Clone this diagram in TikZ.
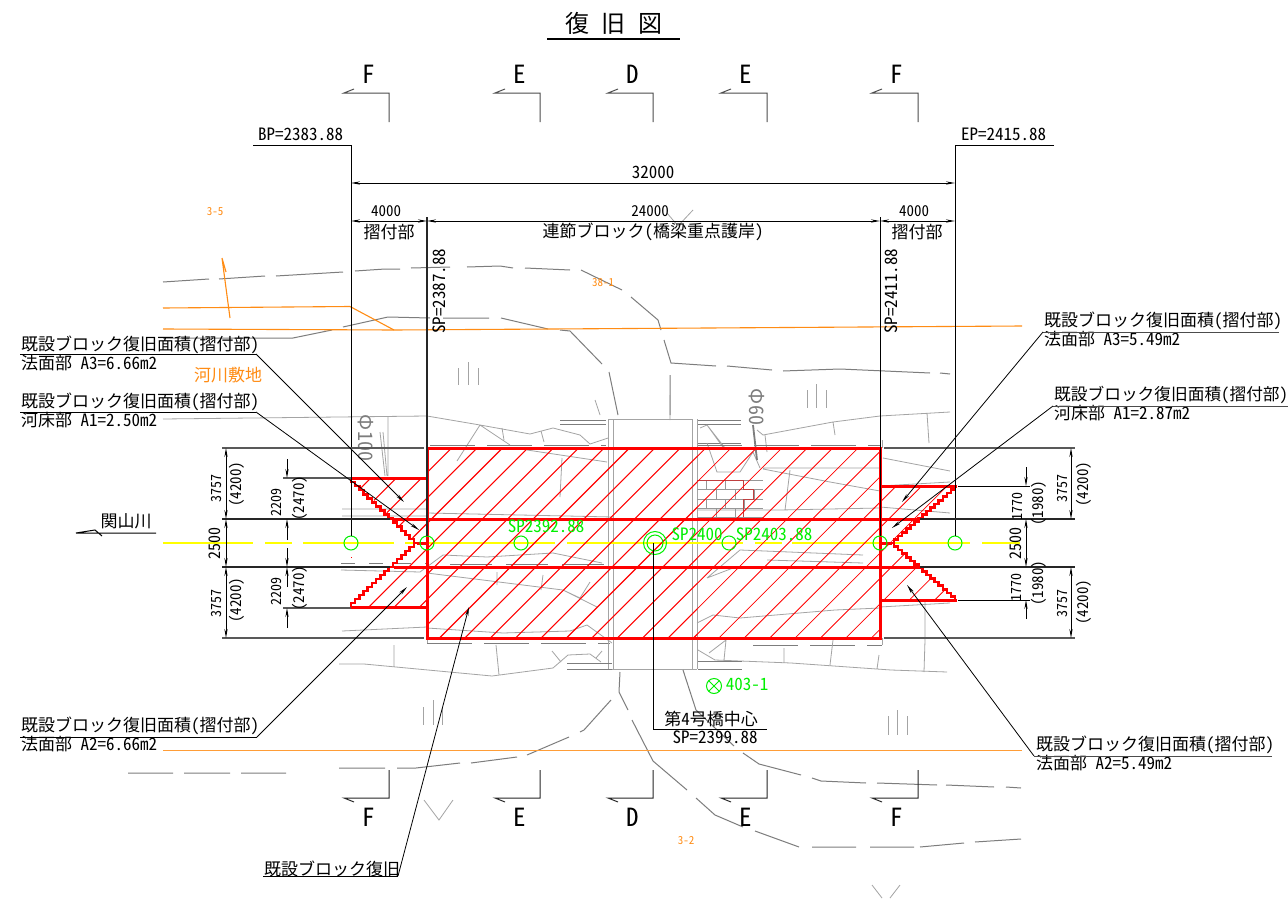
\documentclass[tikz,border=0pt]{standalone}
\usepackage{fontspec}
\usetikzlibrary{arrows.meta,calc}
\newfontfamily\jpf[RawFeature=+hwid]{Noto Sans CJK JP}
\setmainfont{Noto Sans CJK JP}
\newcommand{\fs}[1]{\jpf\fontsize{#1}{#1}\selectfont}
\definecolor{cgreen}{RGB}{0,240,0}
\definecolor{corange}{RGB}{255,140,20}
\definecolor{cred}{RGB}{255,0,0}
\definecolor{cyel}{RGB}{255,255,0}
\definecolor{cgray}{RGB}{125,125,125}
\tikzset{
 lab/.style={font=\fs{17},inner sep=0pt,text=black},
 dimt/.style={font=\fs{14},inner sep=0pt,text=black},
 vdim/.style={dimt,rotate=90},
 sect/.style={font=\fs{25},inner sep=0pt,text=black},
 gl/.style={draw=cgray,line width=1pt},
 gl2/.style={draw=cgray!70,line width=0.8pt},
 orl/.style={draw=corange,line width=1.1pt},
 yl/.style={draw=cyel,line width=1.4pt},
 rd/.style={draw=cred,line width=3pt,line cap=rect},
 st/.style={draw=cred,line width=2.6pt,line cap=rect},
 bk/.style={draw=black,line width=1pt},
 ext/.style={draw=black!65,line width=1.1pt},
 gc/.style={draw=cgreen,line width=1pt},
 arr/.style={-{Stealth[length=9pt,width=3.2pt]},draw=black,line width=0.8pt},
 dbl/.style={{Stealth[length=9pt,width=3.2pt]}-{Stealth[length=9pt,width=3.2pt]},draw=black,line width=0.9pt},
}
\begin{document}
\begin{tikzpicture}[x=1pt,y=-1pt]
\useasboundingbox (0,0) rectangle (1288,899);
\fill[white] (0,0) rectangle (1288,899);
% ---- background survey linework
\draw[gl] (163,282)--(209,279) (219,279)--(265,276) (276,276)--(343,272) (355,271)--(385,269)--(400,269) (411,268)--(450,267) (467,267)--(500,266)--(513,268) (525,268)--(570,270) (581,270)--(622,290) (631,297)--(658,320)--(661,330) (664,340)--(671,363)--(716,366) (727,366)--(772,370) (783,371)--(840,369)--(930,373) (940,373)--(950,374);
\draw[gl] (163,338)--(293,338)--(332,330) (343,327)--(388,317)--(430,318) (443,318)--(489,318) (501,318)--(548,329) (560,330)--(570,331)--(602,364) (609,372)--(618,415) (670,375)--(670,415);
\draw[gl2] (458,368)--(458,385) (468,362)--(468,385) (478,368)--(478,385) (807,390)--(807,408) (816,384)--(816,408) (826,390)--(826,408) (423,707)--(423,725) (433,700)--(433,725) (442,707)--(442,725) (888,716)--(888,735) (897,710)--(897,735) (907,716)--(907,735);
\draw[gl2] (667,213)--(678,226)--(693,210);
% upper linework
\draw[gl2] (163,419)--(427,416)--(480,425)--(530,434)--(553,428)--(580,435)--(590,444)--(608,438) (388,416)--(388,476) (380,432)--(385,476) (383,432)--(387,476) (480,425)--(457,461) (480,425)--(510,445) (502,428)--(504,440) (541,431)--(544,442) (527,450)--(607,462) (562,458)--(560,497);
\draw[gl] (560,420)--(606,420) (560,424)--(606,424) (697,420)--(741,420) (697,424)--(741,424) (697,443)--(741,443);
\draw[gl2] (700,428)--(707,425)--(725,448) (707,425)--(725,450) (707,443)--(717,472)--(740,472)--(753,452)--(760,468) (757,430)--(763,435)--(833,422)--(880,416)--(950,412) (765,435)--(767,452) (833,422)--(835,435) (927,413)--(929,443);
\draw[draw=cgray,line width=1.8pt] (753,425)--(757,460);
\draw[gl2] (763,469)--(830,482)--(880,491) (883,458)--(950,471) (763,468)--(880,468) (697,510)--(780,510)--(880,508) (880,507)--(950,513) (790,470)--(785,510) (880,486)--(950,482);
\draw[gl2] (427,513)--(613,517) (342,509)--(427,509) (342,516)--(427,516) (341,570)--(420,572)--(443,555)--(487,557)--(553,553)--(602,563);
\draw[gl2] (427,573)--(563,590)--(597,607) (563,590)--(580,598)--(590,582) (497,572)--(497,585) (543,575)--(541,590) (342,631)--(427,627);
\draw[gl2] (707,578)--(740,550)--(863,555) (733,568)--(707,578) (767,560)--(863,563) (697,623)--(713,615)--(740,618)--(835,610)--(880,608) (880,607)--(950,603) (925,600)--(925,640);
\draw[gl2] (427,628)--(503,633)--(570,631)--(587,625)--(612,643);
\draw[gl,dash pattern=on 45pt off 12pt] (430,445)--(606,445);
\draw[gl,dash pattern=on 45pt off 12pt] (697,445)--(880,445);
\draw[gl,dash pattern=on 42pt off 14pt] (450,564)--(606,564);
\draw[gl,dash pattern=on 14pt off 14pt] (341,563)--(427,563);
\draw[gl,dash pattern=on 45pt off 12pt] (427,643)--(610,643);
\draw[gl,dash pattern=on 45pt off 12pt] (753,645)--(882,645);
\draw[gl2] (427,638)--(427,643) (882,638)--(882,645) (427,445)--(427,448) (882,440)--(882,448);
% bridge
\draw[gl2,line width=1pt] (608,419)--(608,669) (613,419)--(613,669) (692,419)--(692,669) (697,419)--(697,669) (608,419)--(692,419) (608,669)--(697,669);
\draw[gl2] (595,400)--(600,415) (670,395)--(670,420);
% bottom-mid
\draw[gl2] (339,664)--(364,664)--(492,676)--(553,668)--(568,655)--(590,654)--(601,662) (394,645)--(394,666) (496,645)--(499,675) (552,651)--(561,662) (602,651)--(596,658);
\draw[gl] (567,663)--(612,663) (567,669)--(612,669);
\draw[gl2] (698,650)--(715,660)--(791,663)--(891,670)--(947,672) (709,653)--(726,640) (726,640)--(724,660) (784,648)--(784,662) (833,640)--(830,665) (879,655)--(877,669) (925,640)--(924,672);
\draw[gl] (698,661)--(742,661) (698,669)--(742,669);
% lower dashed
\draw[gl] (620,672)--(619,692)--(628,710) (632,720)--(653,761)--(687,790) (696,798)--(715,815)--(743,827) (755,831)--(799,847) (812,847)--(856,847) (870,847)--(914,847) (920,847)--(964,843) (975,842)--(1021,839);
\draw[gl] (683,670)--(696,710)--(734,746) (743,753)--(759,764)--(801,775) (812,778)--(821,781)--(866,783) (877,783)--(937,785) (946,785)--(994,787) (1006,787)--(1021,788);
\draw[gl] (611,700)--(584,730)--(580,732) (569,737)--(527,755) (517,757)--(471,763) (460,763)--(416,768)--(397,768) (385,768)--(339,768) (286,773)--(241,773) (230,773)--(184,773) (173,773)--(128,773);
\draw[gl2] (424,800)--(439,820)--(453,800) (872,885)--(882,898) (900,885)--(890,898);
% bricks
\draw[draw=cgray!80,line width=0.8pt] (697,480)--(763,480) (697,489)--(763,489) (697,499)--(763,499) (697,508)--(763,508) (697,517)--(763,517)
 (706,480)--(706,489) (725,480)--(725,489) (716,489)--(716,499) (735,489)--(735,499) (754,489)--(754,499) (706,499)--(706,508) (725,499)--(725,508) (744,499)--(744,508) (716,508)--(716,517) (735,508)--(735,517);
\draw[draw=cred!50!gray,line width=0.8pt] (697,480)--(743,480)--(743,489)--(753,489)--(753,499)--(743,499)--(743,517);
% ---- orange
\draw[orl] (163,308)--(350,306.5)--(394,330);
\draw[orl] (163,329)--(394,330)--(1022,326);
\draw[orl] (222,258)--(230,318) (222,258)--(226,272);
\draw[orl,draw=corange!85,line width=1pt] (163,750.4)--(1022,750.4);
% ---- centre line
\draw[yl] (163,543)--(253,543) (265,543)--(292,543) (303,543)--(394,543) (405,543)--(555,543) (567,543)--(743,543) (755,543)--(782,543) (792,543)--(970,543) (982,543)--(1020,543);
% ---- hatching
\begin{scope}
\clip (427,448) rectangle (697,638) (351,478)--(427,478)--(427,607)--(351,607)--(418,543)--cycle;
\foreach \k in {-5,...,35}{\pgfmathsetmacro{\hc}{899.7+25.4*\k}\pgfmathsetmacro{\xa}{\hc-660}\pgfmathsetmacro{\xb}{\hc-430}
 \draw[cred,line width=1.1pt] (\xa,660)--(\xb,430);}
\end{scope}
\begin{scope}
\clip (697,448) rectangle (880,638) (880,486)--(955,486)--(890,543)--(955,600)--(880,600)--cycle;
\foreach \k in {-5,...,35}{\pgfmathsetmacro{\hc}{899.7+25.4*\k}\pgfmathsetmacro{\xa}{\hc-660}\pgfmathsetmacro{\xb}{\hc-430}
 \draw[cred,line width=0.8pt] (\xa,660)--(\xb,430);}
\end{scope}
% ---- red outlines
\draw[rd] (427,448) rectangle (880,638);
\draw[rd] (393,519)--(918,519) (395,567)--(917,567);
\draw[rd] (351,478)--(427,478) (351,607)--(427,607) (880,486)--(955,486) (880,600)--(955,600);
\draw[rd] (418,543)--(427,543) (880,543)--(890,543);
\foreach \i in {0,...,15}{
 \pgfmathsetmacro{\xa}{351+\i*67/16}\pgfmathsetmacro{\ya}{478+\i*65/16}
 \pgfmathsetmacro{\xb}{351+(\i+1)*67/16}\pgfmathsetmacro{\yb}{478+(\i+1)*65/16}
 \draw[st] (\xa,\ya)|-(\xb,\yb);
 \pgfmathsetmacro{\yc}{607-\i*64/16}\pgfmathsetmacro{\yd}{607-(\i+1)*64/16}
 \draw[st] (\xa,\yc)|-(\xb,\yd);
 \pgfmathsetmacro{\xe}{955-\i*65/16}\pgfmathsetmacro{\xf}{955-(\i+1)*65/16}
 \pgfmathsetmacro{\ye}{486+\i*57/16}\pgfmathsetmacro{\yf}{486+(\i+1)*57/16}
 \draw[st] (\xe,\ye)|-(\xf,\yf);
 \pgfmathsetmacro{\yg}{600-\i*57/16}\pgfmathsetmacro{\yh}{600-(\i+1)*57/16}
 \draw[st] (\xe,\yg)|-(\xf,\yh);
}
\draw[cred,line width=0.6pt] (351,557)--(351,558);
% ---- green
\draw[gc] (351,543) circle (7) (427,543) circle (7) (521,543) circle (7) (729,543) circle (7) (880,543) circle (7) (955,543) circle (7);
\draw[gc] (655,543) circle (8) (655,543) circle (11.5);
\draw[gc] (714,686) circle (7.5) (708.7,680.7)--(719.3,691.3) (708.7,691.3)--(719.3,680.7);
\node[font=\fs{17},inner sep=0pt,text=cgreen] (t1) at (546,526) {SP2392.88};
\node[font=\fs{17},inner sep=0pt,text=cgreen] (t2) at (697,534) {SP2400};
\node[font=\fs{17},inner sep=0pt,text=cgreen] (t3) at (774,534) {SP2403.88};
\node[font=\fs{17},inner sep=0pt,text=cgreen] (t4) at (747,684) {403-1};
% ---- orange text
\node[font=\fs{11},inner sep=0pt,text=corange] (o1) at (215,212) {3-5};
\node[font=\fs{11},inner sep=0pt,text=corange] (o2) at (603,283) {38-1};
\node[font=\fs{11},inner sep=0pt,text=corange] (o3) at (686,841) {3-2};
\node[font=\fs{17},inner sep=0pt,text=corange] (o4) at (228,375) {河川敷地};
\node[font=\fs{20},inner sep=0pt,text=cgray,rotate=-90] (ph1) at (366,438) {Φ100};
\node[font=\fs{20},inner sep=0pt,text=cgray,rotate=-90] (ph2) at (757,407) {Φ60};
% ---- title
\node[font=\fs{24},inner sep=0pt] (title) at (614,23) {復\hspace{13pt}旧\hspace{13pt}図};
\coordinate (tl) at (547,39);\coordinate (tr) at (680,39);
\draw[draw=black,line width=1.3pt] (tl)--(tr);
% ---- section marks
\foreach \n/\xl/\xr/\xt/\s in {a/344/389/369/F,b/495/540/520/E,c/608/653/633/D,d/721/767/746/E,e/872/918/897/F}{
 \node[sect] (s\n) at (\xt,74) {\s};
 \node[sect] (u\n) at (\xt,817) {\s};
 \coordinate (p\n) at (\xl,93);\coordinate (q\n) at (\xr,93);\coordinate (r\n) at (\xr,122);
 \draw[draw=black!70,line width=1pt] ($(p\n)+(10,-4)$)--(p\n)--(q\n)--(r\n);
 \coordinate (v\n) at (\xl,798);\coordinate (w\n) at (\xr,798);\coordinate (z\n) at (\xr,770);
 \draw[draw=black!85,line width=1pt] ($(v\n)+(10,4)$)--(v\n)--(w\n)--(z\n);
}
% ---- station lines
\node[lab,anchor=west] (bp) at (258,134) {BP=2383.88};
\node[lab,anchor=west] (ep) at (961,134) {EP=2415.88};
\coordinate (bp0) at (253,145);\coordinate (bp1) at (351,145);\coordinate (bp2) at (351,536);
\coordinate (ep0) at (1054,145);\coordinate (ep1) at (955,145);\coordinate (ep2) at (955,536);
\draw[bk] (bp0)--(bp1)--(bp2);
\draw[bk] (ep0)--(ep1)--(ep2);
\coordinate (sa0) at (427,217);\coordinate (sa1) at (427,536);
\coordinate (sb0) at (880,217);\coordinate (sb1) at (880,536);
\draw[draw=black!85,line width=1.2pt] (sa0)--(sa1);
\draw[draw=black,line width=1pt] (sb0)--(sb1);
\node[lab,rotate=90] (sp1) at (439,291) {SP=2387.88};
\node[lab,rotate=90] (sp2) at (891,291) {SP=2411.88};
% ---- top dimensions
\coordinate (d1) at (351,183);\coordinate (d2) at (955,183);
\draw[dbl] (d1)--(d2);
\node[lab] (n32) at (653,172) {32000};
\coordinate (e1) at (351,221);\coordinate (e2) at (427,221);\coordinate (e3) at (880,221);\coordinate (e4) at (955,221);
\draw[dbl] (e1)--(e2);\draw[dbl] (e2)--(e3);\draw[dbl] (e3)--(e4);
\node[dimt,font=\fs{15}] (n40a) at (386,211) {4000};
\node[dimt,font=\fs{15}] (n24) at (650,211) {24000};
\node[dimt,font=\fs{15}] (n40b) at (914,211) {4000};
\node[lab] (m1) at (389,232) {摺付部};
\node[lab] (m2) at (653,232) {連節ブロック(橋梁重点護岸)};
\node[lab] (m3) at (917,232) {摺付部};
% ---- side extension lines
\draw[ext] (222,448)--(424,448) (222,638)--(424,638) (884,448)--(1075,448) (884,638)--(1075,638);
\draw[draw=black!85,line width=1.4pt] (222,519)--(390,519) (222,567)--(390,567) (920,519)--(1075,519) (920,567)--(1075,567);
\draw[ext] (283,478)--(351,478) (283,608)--(351,608);
\draw[bk] (958,486)--(1030,486) (958,600)--(1030,600);
% ---- side dimensions
\coordinate (la) at (226,448);\coordinate (lb) at (226,519);\coordinate (lc) at (226,567);\coordinate (ld) at (226,638);
\draw[dbl] (la)--(lb);\draw[dbl] (lb)--(lc);\draw[dbl] (lc)--(ld);
\coordinate (ra) at (1071,448);\coordinate (rb) at (1071,519);\coordinate (rc) at (1071,567);\coordinate (rd) at (1071,638);
\draw[dbl] (ra)--(rb);\draw[dbl] (rc)--(rd);
\coordinate (rm1) at (1026,519);\coordinate (rm2) at (1026,567);
\draw[dbl] (rm1)--(rm2);
\draw[arr] (287,459)--(287,478);\draw[arr] (287,540)--(287,519);\draw[arr] (287,548)--(287,567);\draw[arr] (287,587)--(287,567);\draw[arr] (287,628)--(287,608);
\draw[arr] (1026,467)--(1026,486);\draw[arr] (1026,619)--(1026,600);
\node[vdim] (v1) at (216,488) {3757};
\node[vdim,font=\fs{15}] (v2) at (237,484) {(4200)};
\node[vdim,font=\fs{16}] (v3) at (215,543) {2500};
\node[vdim] (v4) at (216,603) {3757};
\node[vdim,font=\fs{15}] (v5) at (237,600) {(4200)};
\node[vdim] (v6) at (276,502) {2209};
\node[vdim,font=\fs{15}] (v7) at (300,498) {(2470)};
\node[vdim] (v8) at (276,591) {2209};
\node[vdim,font=\fs{15}] (v9) at (300,588) {(2470)};
\node[vdim] (w1) at (1017,506) {1770};
\node[vdim,font=\fs{15}] (w2) at (1039,503) {(1980)};
\node[vdim,font=\fs{16}] (w3) at (1016,543) {2500};
\node[vdim] (w4) at (1016,587) {1770};
\node[vdim,font=\fs{15}] (w5) at (1039,583) {(1980)};
\node[vdim] (w6) at (1062,488) {3757};
\node[vdim,font=\fs{15}] (w7) at (1084,484) {(4200)};
\node[vdim] (w8) at (1062,603) {3757};
\node[vdim,font=\fs{15}] (w9) at (1084,602) {(4200)};
% ---- river label
\node[lab] (riv) at (126,521) {関山川};
\coordinate (ra0) at (156,533);\coordinate (ra1) at (76,533);\coordinate (ra2) at (95,530);\coordinate (ra3) at (102,536);
\draw[bk] (ra0)--(ra1)--(ra2)--(ra3);
% ---- leader labels
\foreach \n/\tx/\ty/\ux/\uy/\vx/\ex/\ey/\sub in {
 A/21/345/20/354/256/404/502/法面部 A3=6.66m2,
 B/21/402/20/412/256/419/530/河床部 A1=2.50m2,
 C/21/726/20/737/257/407/587/法面部 A2=6.66m2}{
 \node[lab,anchor=west] (h\n) at (\tx,\ty) {既設ブロック復旧面積(摺付部)};
 \node[lab,anchor=west] (j\n) at (\tx,\ty+18) {\sub};
 \coordinate (k\n) at (\ux,\uy);\coordinate (l\n) at (\vx,\uy);\coordinate (m\n) at (\ex,\ey);
 \draw[bk] (k\n)--(l\n);
 \draw[arr] (l\n)--(m\n);
}
\foreach \n/\tx/\ty/\ux/\uy/\vx/\ex/\ey/\sub in {
 D/1044/321/1279/332/1043/902/502/法面部 A3=5.49m2,
 F/1036/745/1272/756/1034/907/585/法面部 A2=5.49m2}{
 \node[lab,anchor=west] (h\n) at (\tx,\ty) {既設ブロック復旧面積(摺付部)};
 \node[lab,anchor=west] (j\n) at (\tx,\ty+18) {\sub};
 \coordinate (k\n) at (\ux,\uy);\coordinate (l\n) at (\vx,\uy);\coordinate (m\n) at (\ex,\ey);
 \draw[bk,draw=black!70] (k\n)--(l\n);
 \draw[arr] (l\n)--(m\n);
}
\node[lab,anchor=west,font=\fs{16.7}] (hE) at (1054,395) {既設ブロック復旧面積(摺付部)};
\node[lab,anchor=west] (jE) at (1054,413) {河床部 A1=2.87m2};
\coordinate (kE) at (1288,406);\coordinate (lE) at (1053,406);\coordinate (mE) at (892,528);
\draw[bk,draw=black!70] (kE)--(lE);
\draw[arr] (lE)--(mE);
\node[lab,anchor=west] (hG) at (264,869) {既設ブロック復旧};
\coordinate (kG) at (263,876);\coordinate (lG) at (398,876);\coordinate (mG) at (469,607);
\draw[bk] (kG)--(lG);\draw[arr] (lG)--(mG);
% ---- bridge centre
\node[lab] (br1) at (711,719) {第4号橋中心};
\node[lab] (br2) at (715,737) {SP＝2399.88};
\coordinate (c0) at (653,543);\coordinate (c1) at (653,729);\coordinate (c2) at (767,729);
\draw[bk] (c0)--(c1)--(c2);
\end{tikzpicture}
\end{document}
